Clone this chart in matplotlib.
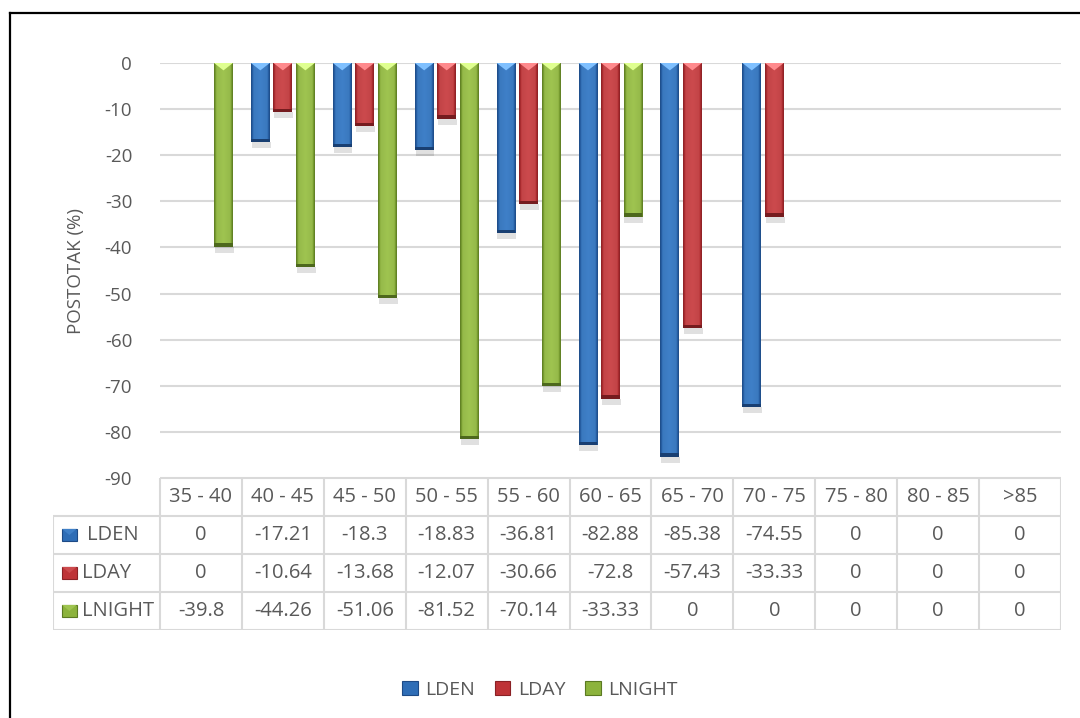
import matplotlib
matplotlib.use("Agg")
import matplotlib.pyplot as plt
from matplotlib.patches import Rectangle, Polygon, Patch
from matplotlib.lines import Line2D
import numpy as np

plt.rcParams["font.family"] = ["Open Sans", "DejaVu Sans"]
plt.rcParams["axes.unicode_minus"] = False

categories = ["35 - 40", "40 - 45", "45 - 50", "50 - 55", "55 - 60", "60 - 65",
              "65 - 70", "70 - 75", "75 - 80", "80 - 85", ">85"]
lden = [0, -17.21, -18.3, -18.83, -36.81, -82.88, -85.38, -74.55, 0, 0, 0]
lday = [0, -10.64, -13.68, -12.07, -30.66, -72.8, -57.43, -33.33, 0, 0, 0]
lnight = [-39.8, -44.26, -51.06, -81.52, -70.14, -33.33, 0, 0, 0, 0, 0]
series = [("LDEN", lden), ("LDAY", lday), ("LNIGHT", lnight)]

# (edge, mid, light) per series
COLS = {"LDEN": ("#1d4a86", "#2e6db6", "#3f80c8"),
        "LDAY": ("#8a2125", "#be3337", "#cc4a4d"),
        "LNIGHT": ("#5b7a22", "#8cb33c", "#9fc450")}
TXT = "#595959"
GRID = "#d9d9d9"
W, H = 1080, 718

fig = plt.figure(figsize=(W / 100, H / 100), dpi=100)
ax = fig.add_axes([160 / W, 1 - 478 / H, 901 / W, 415 / H])


def bevel_bar(ax, xc, width, val, cols):
    if val == 0:
        return
    edge, mid, light = [np.array(matplotlib.colors.to_rgb(c)) for c in cols]
    t = np.linspace(0, 1, 40)
    prof = np.interp(t, [0, 0.12, 0.5, 0.88, 1], [0, 0.85, 1, 0.85, 0])
    grad = np.array([edge + (light - edge) * p if p > 0.85 else edge + (mid - edge) * p / 0.85 for p in prof])
    x0, x1 = xc - width / 2, xc + width / 2
    # soft shadow under bar end
    ax.add_patch(Rectangle((x0 + 0.01, val - 1.3), width, 1.3, color="#000000", alpha=0.12, lw=0, zorder=2))
    ax.imshow(grad[None, :, :], extent=[x0, x1, val, 0], aspect="auto", interpolation="bilinear", zorder=3)
    # bottom bevel
    ax.add_patch(Rectangle((x0, val), width, 0.7, color=edge * 0.85, lw=0, zorder=4))
    # top chevron highlight
    ax.add_patch(Polygon([[x0, 0], [x1, 0], [xc, -1.6]], closed=True,
                         color=np.clip(light + 0.25, 0, 1), lw=0, zorder=4))


x = np.arange(len(categories))
bw, off = 0.23, 0.275
for i, (name, vals) in enumerate(series):
    for xi, v in zip(x, vals):
        bevel_bar(ax, xi + (i - 1) * off, bw, v, COLS[name])

ax.set_xlim(-0.5, 10.5)
ax.set_ylim(-90, 0)
ax.set_yticks(np.arange(-90, 1, 10))
ax.yaxis.grid(True, color=GRID, lw=1.5, zorder=0)
ax.set_axisbelow(True)
ax.set_xticks([])
for s in ax.spines.values():
    s.set_visible(False)
ax.tick_params(axis="y", length=0, pad=20, labelsize=13.5, labelcolor=TXT)
ax.set_ylabel("POSTOTAK (%)", fontsize=13.5, color=TXT, labelpad=14)

# data table
tax = fig.add_axes([53 / W, 1 - 630 / H, (1061 - 53) / W, 152 / H])
xl = -0.5 - 107 / (901 / 11)
tax.set_xlim(xl, 10.5)
tax.set_ylim(4, 0)
tax.axis("off")
lk = dict(color=GRID, lw=1.5, solid_capstyle="butt")
tax.plot([-0.5, 10.5], [0, 0], **lk)
for r in range(1, 5):
    tax.plot([xl, 10.5], [r, r], **lk)
for k in range(12):
    tax.plot([k - 0.5, k - 0.5], [0, 4], **lk)
tax.plot([xl, xl], [1, 4], **lk)
FS_T = 14.5
for k, c in enumerate(categories):
    tax.text(k, 0.5, c, ha="center", va="center", fontsize=FS_T, color=TXT)
for r, (name, vals) in enumerate(series, start=1):
    edge, mid, light = COLS[name]
    yc = r + 0.5
    tax.add_patch(Rectangle((xl + 0.11, yc - 0.16), 0.18, 0.32, facecolor=mid, edgecolor=edge, lw=0.8))
    tax.add_patch(Polygon([[xl + 0.11, yc - 0.16], [xl + 0.29, yc - 0.16], [xl + 0.20, yc]],
                          closed=True, color=light, lw=0))
    lx = xl + (0.42 if name == "LDEN" else 0.36)
    tax.text(lx, yc, name, ha="left", va="center", fontsize=FS_T, color=TXT)
    for k, v in enumerate(vals):
        tax.text(k, yc, f"{v:g}", ha="center", va="center", fontsize=FS_T, color=TXT)

handles = [Patch(facecolor=COLS[n][1], edgecolor=COLS[n][0], lw=0.8) for n, _ in series]
fig.legend(handles, [n for n, _ in series], loc="center", bbox_to_anchor=(0.5, 1 - 690 / H),
           ncol=3, frameon=False, fontsize=14, handlelength=0.8, handleheight=0.7,
           handletextpad=0.4, columnspacing=1.0, labelcolor=TXT)

# outer frame (top and left edges visible)
fig.add_artist(Line2D([10 / W, 1], [1 - 13 / H, 1 - 13 / H], color="black", lw=1.6, transform=fig.transFigure))
fig.add_artist(Line2D([10 / W, 10 / W], [0, 1 - 13 / H], color="black", lw=1.6, transform=fig.transFigure))

fig.savefig("out.png", dpi=100)
